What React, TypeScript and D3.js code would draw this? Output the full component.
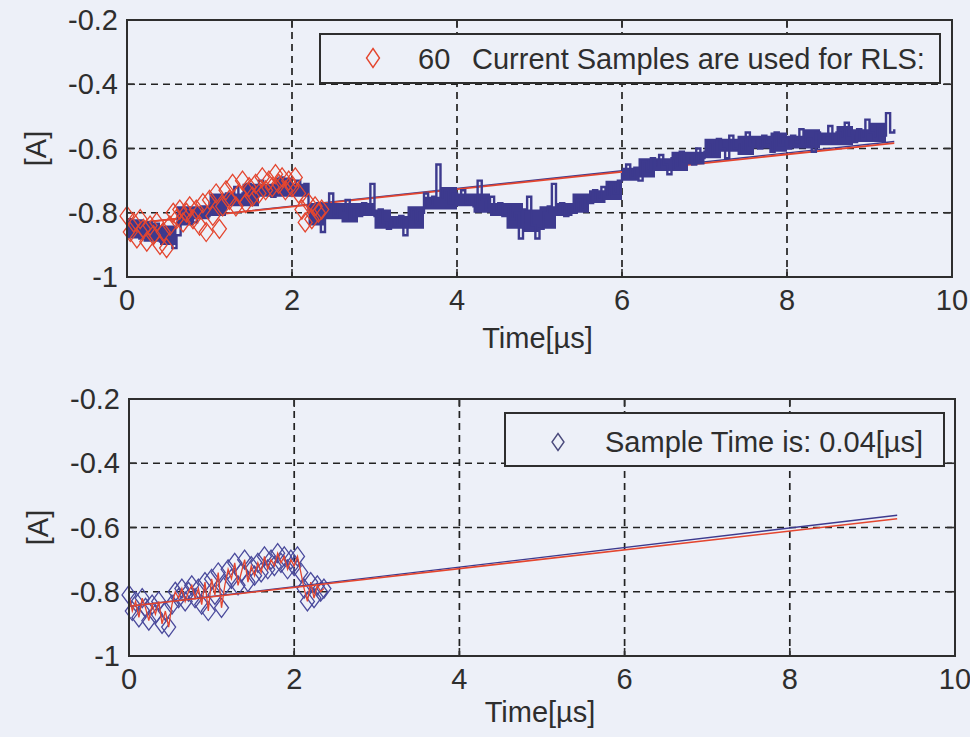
import * as d3 from "d3";

// axis ticks and grid
const timeTicks = [0, 2, 4, 6, 8, 10];
const currentTicks = [-1, -0.8, -0.6, -0.4, -0.2];
const gridTimes = [2, 4, 6, 8];
const gridCurrents = [-0.8, -0.6, -0.4];

// measured current, one value every 0.05 us (0 .. 9.30 us)
const signalDt = 0.05;
const signalValues = [
  -0.82, -0.87, -0.84, -0.88, -0.85, -0.83, -0.87, -0.85, -0.89, -0.86, -0.88, -0.91, -0.87, -0.80, -0.82, -0.79, -0.83, -0.80, -0.78, -0.81,
  -0.77, -0.80, -0.76, -0.79, -0.74, -0.77, -0.72, -0.76, -0.74, -0.71, -0.75, -0.73, -0.70, -0.74, -0.72, -0.75, -0.71, -0.69, -0.73, -0.71,
  -0.74, -0.70, -0.73, -0.71, -0.79, -0.82, -0.77, -0.86, -0.79, -0.74, -0.81, -0.78, -0.80, -0.76, -0.82, -0.79, -0.81, -0.77, -0.80, -0.71,
  -0.81, -0.79, -0.83, -0.85, -0.82, -0.84, -0.81, -0.87, -0.82, -0.79, -0.83, -0.80, -0.74, -0.78, -0.75, -0.65, -0.76, -0.73, -0.77, -0.74,
  -0.76, -0.73, -0.77, -0.75, -0.78, -0.70, -0.76, -0.79, -0.75, -0.80, -0.77, -0.81, -0.78, -0.82, -0.80, -0.88, -0.79, -0.75, -0.84, -0.88,
  -0.85, -0.80, -0.78, -0.71, -0.80, -0.77, -0.81, -0.78, -0.80, -0.76, -0.79, -0.75, -0.77, -0.73, -0.76, -0.72, -0.75, -0.71, -0.74, -0.70,
  -0.68, -0.65, -0.69, -0.66, -0.70, -0.64, -0.67, -0.63, -0.66, -0.62, -0.65, -0.68, -0.63, -0.66, -0.61, -0.64, -0.62, -0.65, -0.60, -0.63,
  -0.61, -0.58, -0.62, -0.57, -0.60, -0.63, -0.56, -0.60, -0.58, -0.61, -0.55, -0.59, -0.57, -0.60, -0.56, -0.58, -0.61, -0.55, -0.59, -0.57,
  -0.60, -0.56, -0.58, -0.54, -0.59, -0.57, -0.61, -0.55, -0.58, -0.56, -0.53, -0.58, -0.55, -0.57, -0.52, -0.56, -0.58, -0.54, -0.57, -0.51,
  -0.55, -0.57, -0.53, -0.56, -0.49, -0.55, -0.54,
];

// dense core of the noisy current, read every 0.2 us (upper / lower edge)
const bandDt = 0.2;
const bandUpper = [
  -0.82, -0.83, -0.84, -0.78, -0.78, -0.74, -0.74, -0.71, -0.71, -0.69, -0.71, -0.77, -0.77, -0.77, -0.77, -0.79,
  -0.81, -0.78, -0.75, -0.72, -0.74, -0.74, -0.77, -0.77, -0.79, -0.78, -0.77, -0.74, -0.73, -0.70, -0.66, -0.63,
  -0.63, -0.61, -0.61, -0.57, -0.57, -0.56, -0.56, -0.55, -0.56, -0.54, -0.55, -0.53, -0.54, -0.52, -0.53,
];
const bandLower = [
  -0.88, -0.89, -0.90, -0.84, -0.82, -0.81, -0.78, -0.78, -0.75, -0.75, -0.75, -0.84, -0.82, -0.83, -0.81, -0.85,
  -0.85, -0.85, -0.79, -0.79, -0.78, -0.80, -0.81, -0.85, -0.86, -0.85, -0.81, -0.80, -0.77, -0.76, -0.70, -0.69,
  -0.67, -0.67, -0.65, -0.63, -0.61, -0.62, -0.60, -0.61, -0.60, -0.60, -0.59, -0.59, -0.58, -0.58, -0.57,
];

// the 60 samples used for RLS, one every 0.04 us
const sampleDt = 0.04;
const sampleValues = [
  -0.81, -0.86, -0.83, -0.88, -0.82, -0.85, -0.89, -0.84, -0.87, -0.83, -0.90, -0.86, -0.91,
  -0.84, -0.80, -0.82, -0.79, -0.83, -0.80, -0.78, -0.82,
  -0.79, -0.84, -0.77, -0.86, -0.76, -0.81, -0.74, -0.85, -0.78,
  -0.73, -0.76, -0.71, -0.78, -0.74, -0.70, -0.77, -0.72, -0.75, -0.71,
  -0.74, -0.69, -0.73, -0.70, -0.72, -0.68, -0.71, -0.69, -0.73, -0.70,
  -0.72, -0.69, -0.74, -0.79, -0.83, -0.77, -0.82, -0.78, -0.80, -0.79,
];

// RLS fitted lines (start / end)
const fitTimes = [0, 9.3];
const topRedFit = [-0.835, -0.583];
const topBlueFit = [-0.835, -0.578];
const bottomRedFit = [-0.845, -0.573];
const bottomBlueFit = [-0.845, -0.562];

const topLegend = "Current Samples are used for RLS:";
const topLegendCount = "60";
const bottomLegend = "Sample Time is: 0.04[µs]";
const xLabel = "Time[µs]";
const yLabel = "[A]";

const BG = "#edf0f8";
const INK = "#2e2e2e";
const NAVY = "#3d3a8e";
const RED = "#e4462f";
const FONT = "'Liberation Sans', Arial, sans-serif";

const diamond = (w: number, h: number) => `M0,${-h}L${w},0L0,${h}L${-w},0Z`;

type PanelProps = {
  x0: number; x1: number; y0: number; y1: number;
  children: (x: d3.ScaleLinear<number, number>, y: d3.ScaleLinear<number, number>) => any;
  xLabelY: number; yLabelX: number;
};

function Panel({ x0, x1, y0, y1, children, xLabelY, yLabelX }: PanelProps) {
  const x = d3.scaleLinear().domain([0, 10]).range([x0, x1]);
  const y = d3.scaleLinear().domain([-1, -0.2]).range([y1, y0]);
  return (
    <g>
      <g stroke="#222" strokeWidth={1.7} strokeDasharray="7,5">
        {gridTimes.map((t) => (
          <line key={"gx" + t} x1={x(t)} x2={x(t)} y1={y0} y2={y1} />
        ))}
        {gridCurrents.map((c) => (
          <line key={"gy" + c} x1={x0} x2={x1} y1={y(c)} y2={y(c)} />
        ))}
      </g>
      <g stroke={INK} strokeWidth={1.6}>
        {timeTicks.map((t) => (
          <g key={"tx" + t}>
            <line x1={x(t)} x2={x(t)} y1={y1} y2={y1 - 8} />
            <line x1={x(t)} x2={x(t)} y1={y0} y2={y0 + 8} />
          </g>
        ))}
        {currentTicks.map((c) => (
          <g key={"ty" + c}>
            <line x1={x0} x2={x0 + 8} y1={y(c)} y2={y(c)} />
            <line x1={x1} x2={x1 - 8} y1={y(c)} y2={y(c)} />
          </g>
        ))}
      </g>
      {children(x, y)}
      <rect x={x0} y={y0} width={x1 - x0} height={y1 - y0} fill="none" stroke={INK} strokeWidth={2} />
      <g fontFamily={FONT} fontSize={29} fill={INK}>
        {timeTicks.map((t) => (
          <text key={"lx" + t} x={x(t)} y={y1 + 33} textAnchor="middle">{String(t)}</text>
        ))}
        {currentTicks.map((c) => (
          <text key={"ly" + c} x={x0 - 9} y={y(c) + 10} textAnchor="end">{String(c)}</text>
        ))}
        <text x={(x0 + x1) / 2 - 2} y={xLabelY} textAnchor="middle">{xLabel}</text>
        <text transform={`translate(${yLabelX},${(y0 + y1) / 2}) rotate(-90)`} textAnchor="middle" dy={10}>{yLabel}</text>
      </g>
    </g>
  );
}

export default function App() {
  const signal = signalValues.map((v, i) => [i * signalDt, v] as [number, number]);
  const band = bandUpper.map((u, i) => ({ t: Math.min(i * bandDt, 9.3), hi: u, lo: bandLower[i] }));
  const samples = sampleValues.map((v, i) => [i * sampleDt, v] as [number, number]);
  const fit = (vals: number[]) => fitTimes.map((t, i) => [t, vals[i]] as [number, number]);

  return (
    <svg width={970} height={737} style={{ position: "absolute", left: 0, top: 0, background: BG }}>
      <rect width={970} height={737} fill={BG} />
      <Panel x0={127} x1={952} y0={20} y1={277} xLabelY={348} yLabelX={36}>
        {(x, y) => {
          const line = d3.line<[number, number]>().x((d) => x(d[0])).y((d) => y(d[1]));
          const step = d3.line<[number, number]>().x((d) => x(d[0])).y((d) => y(d[1])).curve(d3.curveStepAfter);
          const area = d3.area<{ t: number; hi: number; lo: number }>()
            .x((d) => x(d.t)).y0((d) => y(d.lo)).y1((d) => y(d.hi)).curve(d3.curveStepAfter);
          return (
            <g>
              <path d={line(fit(topBlueFit)) || ""} fill="none" stroke={NAVY} strokeWidth={1.4} />
              <path d={line(fit(topRedFit)) || ""} fill="none" stroke={RED} strokeWidth={1.8} />
              <path d={area(band) || ""} fill={NAVY} stroke="none" />
              <path d={step(signal) || ""} fill="none" stroke={NAVY} strokeWidth={2.4} />
              {samples.map((d, i) => (
                <path key={i} d={diamond(7, 9.5)} transform={`translate(${x(d[0])},${y(d[1])})`} fill="none" stroke={RED} strokeWidth={1.3} />
              ))}
              <rect x={320} y={34} width={620} height={49} fill={BG} stroke={INK} strokeWidth={2} />
              <path d={diamond(6.5, 9.5)} transform="translate(373,58)" fill="none" stroke={RED} strokeWidth={1.4} />
              <text x={418} y={69} fontFamily={FONT} fontSize={29} fill={INK}>{topLegendCount}</text>
              <text x={472} y={69} fontFamily={FONT} fontSize={29} fill={INK}>{topLegend}</text>
            </g>
          );
        }}
      </Panel>
      <Panel x0={129} x1={955} y0={399} y1={656} xLabelY={722} yLabelX={38}>
        {(x, y) => {
          const line = d3.line<[number, number]>().x((d) => x(d[0])).y((d) => y(d[1]));
          return (
            <g>
              {samples.map((d, i) => (
                <path key={i} d={diamond(7, 9.5)} transform={`translate(${x(d[0])},${y(d[1])})`} fill="none" stroke="#4a4a9c" strokeWidth={1.3} />
              ))}
              <path d={line(samples) || ""} fill="none" stroke={RED} strokeWidth={1.3} />
              <path d={line(fit(bottomBlueFit)) || ""} fill="none" stroke={NAVY} strokeWidth={1.4} />
              <path d={line(fit(bottomRedFit)) || ""} fill="none" stroke={RED} strokeWidth={1.6} />
              <rect x={505} y={413} width={439} height={53} fill={BG} stroke={INK} strokeWidth={2} />
              <path d={diamond(6, 8.5)} transform="translate(558,442)" fill="none" stroke="#4a4a7c" strokeWidth={1.4} />
              <text x={605} y={452} fontFamily={FONT} fontSize={29} fill={INK}>{bottomLegend}</text>
            </g>
          );
        }}
      </Panel>
    </svg>
  );
}
